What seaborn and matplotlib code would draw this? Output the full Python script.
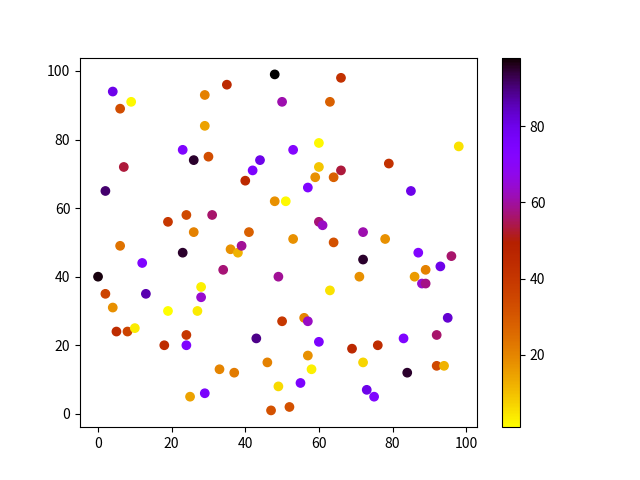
import numpy as np
import pandas as pd
import matplotlib
matplotlib.use("Agg")
import matplotlib.pyplot as plt
import seaborn as sns

plt.rcParams['font.family'] = ['Noto Sans CJK SC', 'DejaVu Sans']

# point positions and colour values
x_vals = [0, 2, 2, 4, 4, 5, 6, 6, 7, 8,
          9, 10, 12, 13, 18, 19, 19, 23, 23, 24,
          24, 24, 25, 26, 26, 27, 28, 28, 29, 29,
          29, 30, 31, 33, 34, 35, 36, 37, 38, 39,
          40, 41, 42, 43, 44, 46, 47, 48, 48, 49,
          49, 50, 50, 51, 52, 53, 53, 55, 56, 57,
          57, 57, 58, 59, 60, 60, 60, 60, 61, 63,
          63, 64, 64, 66, 66, 69, 72, 72, 71, 72,
          73, 75, 76, 78, 79, 83, 84, 85, 86, 87,
          89, 88, 89, 92, 92, 93, 94, 95, 96, 98]
y_vals = [40, 65, 35, 94, 31, 24, 89, 49, 72, 24,
          91, 25, 44, 35, 20, 56, 30, 77, 47, 58,
          23, 20, 5, 74, 53, 30, 37, 34, 93, 84,
          6, 75, 58, 13, 42, 96, 48, 12, 47, 49,
          68, 53, 71, 22, 74, 15, 1, 99, 62, 8,
          40, 91, 27, 62, 2, 77, 51, 9, 28, 27,
          17, 66, 13, 69, 79, 72, 56, 21, 55, 91,
          36, 69, 50, 98, 71, 19, 53, 45, 40, 15,
          7, 5, 20, 51, 73, 22, 12, 65, 40, 47,
          42, 38, 38, 23, 14, 43, 14, 28, 46, 78]
c_vals = [97, 91, 36, 80, 18, 44, 33, 24, 53, 36,
          2, 4, 74, 86, 44, 40, 1, 74, 95, 34,
          40, 74, 15, 95, 21, 4, 3, 64, 21, 15,
          76, 33, 56, 20, 57, 45, 18, 22, 12, 59,
          45, 28, 75, 89, 80, 21, 32, 98, 18, 6,
          59, 61, 40, 2, 32, 72, 18, 75, 20, 63,
          18, 74, 3, 18, 2, 9, 57, 75, 63, 28,
          5, 28, 32, 42, 53, 46, 61, 95, 18, 7,
          80, 74, 44, 18, 42, 74, 95, 80, 16, 73,
          21, 64, 58, 56, 34, 80, 12, 83, 56, 5]

df = pd.DataFrame({"x": x_vals, "y": y_vals, "c": c_vals})

fig, ax = plt.subplots(figsize=(6.4, 4.8), dpi=100)
norm = plt.Normalize(min(c_vals), max(c_vals))
sns.scatterplot(data=df, x="x", y="y", hue="c", hue_norm=norm,
                palette="gnuplot_r", s=36, linewidth=1, edgecolor="face",
                legend=False, ax=ax)
ax.set_xlabel("")
ax.set_ylabel("")
ax.set_xticks([0, 20, 40, 60, 80, 100])
ax.set_yticks([0, 20, 40, 60, 80, 100])

sm = plt.cm.ScalarMappable(norm=norm, cmap="gnuplot_r")
sm.set_array([])
fig.colorbar(sm, ax=ax)

plt.savefig("out.png", dpi=100)
plt.close()
